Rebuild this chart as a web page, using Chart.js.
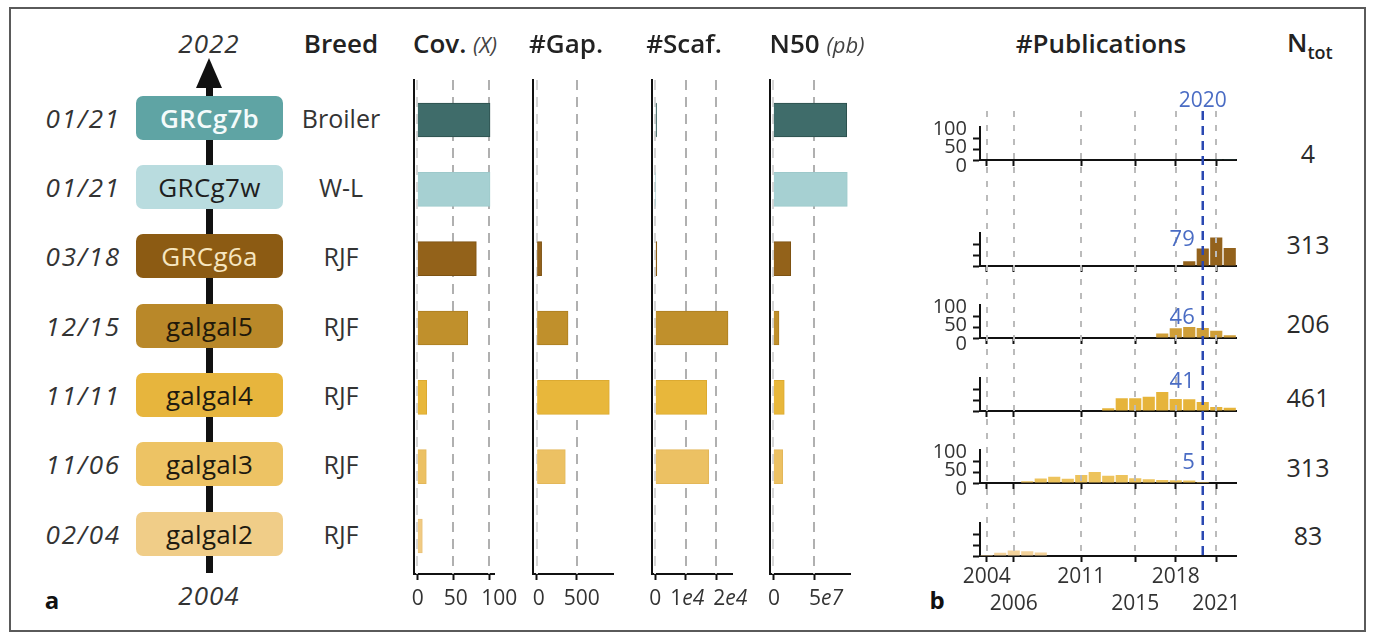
<!DOCTYPE html>
<html><head><meta charset="utf-8">
<script src="https://cdn.jsdelivr.net/npm/chart.js@4.4.1/dist/chart.umd.min.js"></script>
<style>
html,body{margin:0;padding:0;background:#fff;}
body{width:1375px;height:640px;position:relative;overflow:hidden;font-family:"Open Sans",sans-serif;color:#2b2b2b;}
canvas{position:absolute;}
.frame{position:absolute;left:9px;top:7px;width:1357px;height:625px;border:2px solid #5a5a5a;box-sizing:border-box;}
.t{position:absolute;white-space:nowrap;line-height:1;}
.box{position:absolute;border-radius:7px;display:flex;align-items:center;justify-content:center;font-size:26px;line-height:1;letter-spacing:0.3px;}
</style></head><body>
<div class="frame"></div>
<script>
// ---------- DATA ----------
const categories = ['GRCg7b','GRCg7w','GRCg6a','galgal5','galgal4','galgal3','galgal2'];
const releaseDates = ['01/21','01/21','03/18','12/15','11/11','11/06','02/04'];
const breeds = ['Broiler','W-L','RJF','RJF','RJF','RJF','RJF'];
const coverage  = [101, 101, 82, 70, 13, 12.5, 7];
const gaps      = [null, null, 62, 392, 908, 358, null];
const scaffolds = [400, 100, 500, 23840, 16850, 17500, null];
const n50       = [9.02e7, 9.09e7, 2.14e7, 0.70e7, 1.35e7, 1.15e7, null];

const covTicks = [0, 50, 100];      const covTickLabels = ['0','50','100'];
const gapTicks = [0, 500];          const gapTickLabels = ['0','500'];
const scafTicks = [0, 10000, 20000]; const scafTickLabels = ['0','1e4','2e4'];
const n50Ticks = [0, 50000000];     const n50TickLabels = ['0','5e7'];

const pubYears = ['2004','2005','2006','2007','2008','2009','2010','2011','2012','2013','2014','2015','2016','2017','2018','2019','2020','2021','2022'];
const pubTickUpper = ['2004','2011','2018'];
const pubTickLower = ['2006','2015','2021'];
const pubMarkYear = '2020';
const pubYTicks = [0, 50, 100];
const pubYTickLabels = ['0','50','100'];
const pubRowNames = ['GRCg7','GRCg6a','galgal5','galgal4','galgal3','galgal2'];
const pubGRCg7   = [0,0,0,0,0,0,0,0,0,0,0,0,0,0,0,0,0,1,3];
const pubGRCg6a  = [0,0,0,0,0,0,0,0,0,0,0,0,0,0,0,22,79,130,82];
const pubGalgal5 = [0,0,0,0,0,0,0,0,0,0,0,0,0,20,44,50,46,33,13];
const pubGalgal4 = [0,0,0,0,0,0,0,0,0,12,58,58,65,86,55,53,41,18,15];
const pubGalgal3 = [0,0,0,8,21,28,19,36,50,33,36,22,17,14,13,11,5,0,0];
const pubGalgal2 = [5,15,25,22,16,0,0,0,0,0,0,0,0,0,0,0,0,0,0];
const pubAnnot = [null, '79', '46', '41', '5', null];
const nTot = ['4','313','206','461','313','83'];

// ---------- STYLE ----------
const barColors = ['#3f6c6a','#a6d0d2','#93621a','#c0902c','#e8b73b','#ecc163','#f1cb83'];
const barBorders = ['#2c4f4d','#9dc9cb','#7d5212','#ad7f22','#dcaa31','#e3b759','#e9c278'];
const boxColors = ['#5fa4a4','#b9dcdf','#8c5b13','#b98829','#e7b53d','#edc364','#f0cd88'];
const boxTextColors = ['#f4fbfb','#1e1e1e','#f6e6c0','#22190a','#1e1a10','#1e1a10','#1e1a10'];
const boxWeights = [600,400,400,400,400,400,400];
const pubColors = ['#3f6c6a','#93621c','#cf9e38','#e6b43a','#edc35c','#f3d29a'];

Chart.defaults.font.family = "'Open Sans', sans-serif";

function addText(html, x, y, style, align) {
  const d = document.createElement('div');
  d.className = 't';
  d.innerHTML = html;
  Object.assign(d.style, style || {});
  d.style.left = x + 'px'; d.style.top = y + 'px';
  const tx = align === 'right' ? '-100%' : align === 'left' ? '0' : '-50%';
  d.style.transform = 'translate(' + tx + ',-50%)';
  document.body.appendChild(d);
  return d;
}
function makeCanvas(x, y, w, h) {
  const c = document.createElement('canvas');
  c.width = w; c.height = h;
  c.style.left = x + 'px'; c.style.top = y + 'px';
  c.style.width = w + 'px'; c.style.height = h + 'px';
  document.body.appendChild(c);
  return c;
}

// ---------- BAR PANELS ----------
const PANEL_TOP = 80, PANEL_BOTTOM = 574, PANEL_W = 80, CANVAS_TOP = 70, CANVAS_H = 550;
const panelDefs = [
  {values: coverage,  ticks: covTicks,  labels: covTickLabels,  shift: [0.5, 2.5, 10], min: -4.6,    max: 106.5,  left: 414},
  {values: gaps,      ticks: gapTicks,  labels: gapTickLabels,  shift: [2, 5],         min: -46,     max: 954,    left: 533},
  {values: scaffolds, ticks: scafTicks, labels: scafTickLabels, shift: [0, 1.5, 14],   min: -1080,   max: 25150,  left: 652},
  {values: n50,       ticks: n50Ticks,  labels: n50TickLabels,  shift: [0.7, 12],      min: -4.05e6, max: 9.42e7, left: 770},
];
const charts = [];
panelDefs.forEach(p => {
  const cw = 140;
  const c = makeCanvas(p.left - 20, CANVAS_TOP, cw, CANVAS_H);
  const pts = [], cols = [], bcols = [];
  p.values.forEach((v, i) => { if (v !== null) { pts.push({x: v, y: i}); cols.push(barColors[i]); bcols.push(barBorders[i]); } });
  const panelPlugin = {
    id: 'panelDeco',
    beforeDatasetsDraw(chart) {
      const {ctx, chartArea} = chart; const xs = chart.scales.x;
      ctx.save(); ctx.setLineDash([10, 7]); ctx.lineWidth = 2;
      p.ticks.forEach(v => {
        const px = Math.round(xs.getPixelForValue(v));
        ctx.strokeStyle = v === 0 ? '#d6d6d6' : '#b0b0b0';
        ctx.beginPath(); ctx.moveTo(px, chartArea.top); ctx.lineTo(px, chartArea.bottom); ctx.stroke();
      });
      ctx.restore();
    },
    afterDraw(chart) {
      const {ctx, chartArea} = chart; const xs = chart.scales.x;
      const y = chartArea.bottom + 25;
      ctx.save(); ctx.fillStyle = '#333'; ctx.textBaseline = 'middle'; ctx.textAlign = 'left';
      const fUp = "21px 'Open Sans'", fIt = "italic 21px 'Open Sans'";
      p.labels.forEach((lab, i) => {
        const x = xs.getPixelForValue(p.ticks[i]) + p.shift[i];
        const parts = lab.split('e');
        ctx.font = fUp; const w1 = ctx.measureText(parts[0]).width;
        let w2 = 0;
        if (parts.length > 1) { ctx.font = fIt; w2 = ctx.measureText('e' + parts[1]).width; }
        const x0 = x - (w1 + w2) / 2;
        ctx.font = fUp; ctx.fillText(parts[0], x0, y);
        if (parts.length > 1) { ctx.font = fIt; ctx.fillText('e' + parts[1], x0 + w1, y); }
      });
      ctx.restore();
    }
  };
  const ch = new Chart(c, {
    type: 'bar',
    data: {datasets: [{data: pts, backgroundColor: cols, borderColor: bcols, borderWidth: 1, borderSkipped: 'start', barThickness: 34}]},
    options: {
      indexAxis: 'y', responsive: false, animation: false, devicePixelRatio: 1,
      layout: {padding: {left: 20, right: cw - 20 - PANEL_W, top: PANEL_TOP - CANVAS_TOP, bottom: 0}},
      plugins: {legend: {display: false}, tooltip: {enabled: false}},
      scales: {
        x: {type: 'linear', min: p.min, max: p.max, bounds: 'data', offset: false,
            afterBuildTicks: s => { s.ticks = p.ticks.map(v => ({value: v})); },
            ticks: {display: false},
            grid: {display: true, drawOnChartArea: false, drawTicks: true, tickLength: 6, tickWidth: 2, tickColor: '#111'},
            border: {display: true, color: '#111', width: 2},
            afterFit: s => { s.height = CANVAS_TOP + CANVAS_H - PANEL_BOTTOM; }},
        y: {type: 'linear', reverse: true, min: -0.577, max: 6.548, bounds: 'data', offset: false,
            ticks: {display: false}, grid: {display: false, drawTicks: false, offset: false},
            border: {display: true, color: '#111', width: 2},
            afterFit: s => { s.width = 0; }}
      }
    },
    plugins: [panelPlugin]
  });
  charts.push(ch);
});

// ---------- TIMELINE (left) ----------
const yScale = charts[0].scales.y;
const line = document.createElement('div');
Object.assign(line.style, {position: 'absolute', left: '206px', top: '85px', width: '6.5px', height: '488px', background: '#111'});
document.body.appendChild(line);
const head = document.createElement('div');
Object.assign(head.style, {position: 'absolute', left: '195.5px', top: '58px', width: 0, height: 0,
  borderLeft: '13.5px solid transparent', borderRight: '13.5px solid transparent', borderBottom: '30px solid #111'});
document.body.appendChild(head);

categories.forEach((name, i) => {
  const cy = CANVAS_TOP + yScale.getPixelForValue(i) - 2.5;
  const b = document.createElement('div');
  b.className = 'box';
  Object.assign(b.style, {left: '136px', top: (cy - 22) + 'px', width: '147px', height: '44px',
    background: boxColors[i], color: boxTextColors[i], fontWeight: boxWeights[i]});
  b.textContent = name;
  document.body.appendChild(b);
  addText(releaseDates[i], 121, cy, {fontStyle: 'italic', fontSize: '26px', color: '#333', letterSpacing: '1.8px'}, 'right');
  addText(breeds[i], 341, cy, {fontSize: '25px', color: '#333'});
});
addText('2022', 209, 43, {fontStyle: 'italic', fontSize: '26px', color: '#333', letterSpacing: '1px'});
addText('2004', 209, 595, {fontStyle: 'italic', fontSize: '26px', color: '#333', letterSpacing: '1px'});

const hStyle = {fontSize: '26px', fontWeight: 600, color: '#222'};
addText('Breed', 341, 43, hStyle);
addText('Cov. <span style="font-style:italic;font-weight:400;font-size:22px;color:#444">(X)</span>', 455, 43, hStyle);
addText('#Gap.', 566, 43, hStyle);
addText('#Scaf.', 684, 43, hStyle);
addText('N50 <span style="font-style:italic;font-weight:400;font-size:22px;color:#444">(pb)</span>', 817, 43, hStyle);
addText('#Publications', 1101, 43, hStyle);
addText('N<sub style="font-size:18px;vertical-align:-7px">tot</sub>', 1287, 45, hStyle, 'left');
addText('a', 52, 600, {fontSize: '24px', fontWeight: 700, color: '#111'});
addText('b', 937, 600, {fontSize: '24px', fontWeight: 700, color: '#111'});

// ---------- PUBLICATIONS ----------
const PUB_LEFT = 940, PUB_W = 320, PUB_PAD_L = 40, PUB_AREA_W = 256.5, PUB_PLOT_H = 33;
const pubAxisY = [160, 266, 338, 410.5, 483, 556];
const pubSeries = [pubGRCg7, pubGRCg6a, pubGalgal5, pubGalgal4, pubGalgal3, pubGalgal2];
const pubShowYLabels = [true, false, true, false, true, false];
const nTotY = [153, 244, 323, 397, 467, 535];

pubSeries.forEach((data, r) => {
  const last = r === pubSeries.length - 1;
  const padTop = 10, xH = last ? 68 : 12;
  const top = pubAxisY[r] - PUB_PLOT_H - padTop;
  const c = makeCanvas(PUB_LEFT, top, PUB_W, padTop + PUB_PLOT_H + xH);
  new Chart(c, {
    type: 'bar',
    data: {labels: pubYears, datasets: [{data: data, backgroundColor: pubColors[r], barPercentage: 0.9, categoryPercentage: 1.0, borderWidth: 0}]},
    options: {
      responsive: false, animation: false, devicePixelRatio: 1,
      layout: {padding: {left: PUB_PAD_L, right: PUB_W - PUB_PAD_L - PUB_AREA_W, top: padTop, bottom: 0}},
      plugins: {legend: {display: false}, tooltip: {enabled: false}},
      scales: {
        x: {type: 'category', offset: true,
            grid: {display: true, offset: false, drawOnChartArea: false, drawTicks: true, tickLength: 6, tickWidth: 2,
                   tickColor: ctx => (pubTickUpper.includes(pubYears[ctx.index]) || pubTickLower.includes(pubYears[ctx.index])) ? '#111' : 'rgba(0,0,0,0)'},
            border: {display: true, color: '#111', width: 2},
            ticks: {display: last, autoSkip: false, maxRotation: 0, minRotation: 0, padding: 1,
                    font: {size: 21, lineHeight: 1.3}, color: '#333',
                    callback: (v, i) => {
                      const y = pubYears[i];
                      if (pubTickUpper.includes(y)) return [y, ''];
                      if (pubTickLower.includes(y)) return ['', y];
                      return '';
                    }},
            afterFit: s => { s.height = xH; }},
        y: {type: 'linear', min: 0, max: 150, bounds: 'data',
            afterBuildTicks: s => { s.ticks = pubYTicks.map(v => ({value: v})); },
            ticks: {display: false},
            grid: {display: true, drawOnChartArea: false, drawTicks: true, tickLength: 7, tickWidth: 2, tickColor: '#111'},
            border: {display: true, color: '#111', width: 2},
            afterFit: s => { s.width = 0; }}
      }
    }
  });
  if (pubShowYLabels[r]) {
    const ys = {fontSize: '20px', color: '#333'};
    addText(pubYTickLabels[2], 967, pubAxisY[r] - 32, ys, 'right');
    addText(pubYTickLabels[1], 967, pubAxisY[r] - 14.5, ys, 'right');
    addText(pubYTickLabels[0], 967, pubAxisY[r] + 5, ys, 'right');
  }
  addText(nTot[r], 1308, nTotY[r], {fontSize: '25px', color: '#2b2b2b'});
});

const ovTop = 100, ovH = 465;
const ovC = makeCanvas(PUB_LEFT, ovTop, PUB_W, ovH);
const ovPlugin = {
  id: 'yearlines',
  afterDraw(chart) {
    const {ctx, chartArea} = chart; const xs = chart.scales.x;
    ctx.save();
    ctx.lineWidth = 2; ctx.strokeStyle = '#bbbbbb'; ctx.setLineDash([6, 8]);
    pubTickUpper.concat(pubTickLower).forEach(y => {
      const px = Math.round(xs.getPixelForValue(pubYears.indexOf(y)));
      ctx.beginPath(); ctx.moveTo(px, chartArea.top); ctx.lineTo(px, chartArea.bottom); ctx.stroke();
    });
    ctx.lineWidth = 2.5; ctx.strokeStyle = '#2a48b2'; ctx.setLineDash([9, 6]);
    const bx = xs.getPixelForValue(pubYears.indexOf(pubMarkYear));
    ctx.beginPath(); ctx.moveTo(bx, chartArea.top); ctx.lineTo(bx, chartArea.bottom); ctx.stroke();
    ctx.restore();
  }
};
const ovChart = new Chart(ovC, {
  type: 'bar',
  data: {labels: pubYears, datasets: [{data: []}]},
  options: {
    responsive: false, animation: false, devicePixelRatio: 1,
    layout: {padding: {left: PUB_PAD_L, right: PUB_W - PUB_PAD_L - PUB_AREA_W, top: 11, bottom: 9}},
    plugins: {legend: {display: false}, tooltip: {enabled: false}},
    scales: {x: {type: 'category', offset: true, display: false}, y: {display: false}}
  },
  plugins: [ovPlugin]
});
const x2020 = PUB_LEFT + ovChart.scales.x.getPixelForValue(pubYears.indexOf(pubMarkYear));
addText(pubMarkYear, x2020, 99, {fontSize: '21px', color: '#4a6cc4'});
pubAnnot.forEach((a, r) => {
  if (a === null) return;
  const dy = [0, 29, 23, 32, 23, 0][r];
  addText(a, x2020 - 8, pubAxisY[r] - dy, {fontSize: '22px', color: '#4a6cc4'}, 'right');
});
</script>
</body></html>
